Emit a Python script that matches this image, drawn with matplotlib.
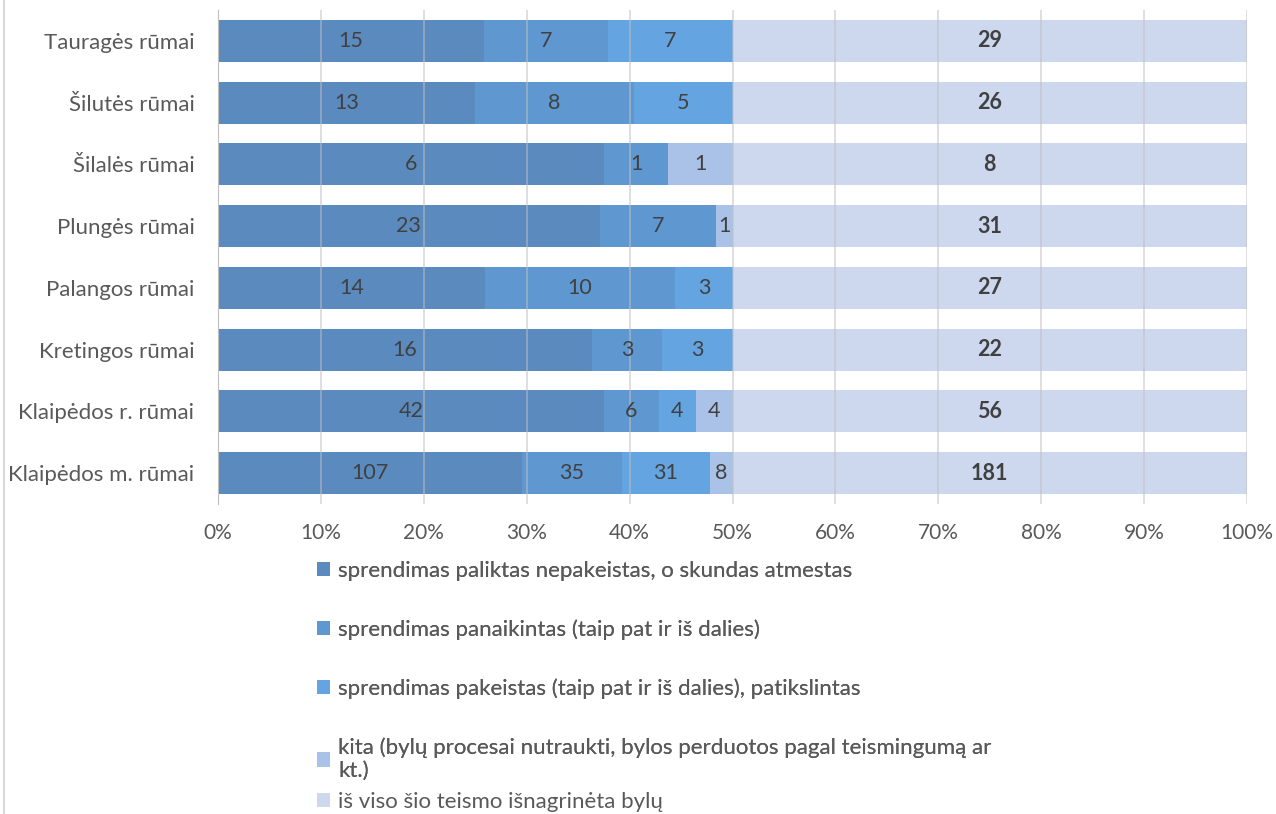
import matplotlib
matplotlib.use("Agg")
import matplotlib.pyplot as plt
import numpy as np

plt.rcParams['font.family'] = ['Lato', 'DejaVu Sans']

courts = ["Tauragės rūmai", "Šilutės rūmai", "Šilalės rūmai", "Plungės rūmai",
          "Palangos rūmai", "Kretingos rūmai", "Klaipėdos r. rūmai", "Klaipėdos m. rūmai"]
unchanged = [15, 13, 6, 23, 14, 16, 42, 107]
annulled = [7, 8, 1, 7, 10, 3, 6, 35]
changed = [7, 5, 0, 0, 3, 3, 4, 31]
other = [0, 0, 1, 1, 0, 0, 4, 8]
total = [29, 26, 8, 31, 27, 22, 56, 181]

series_names = [
    "sprendimas paliktas nepakeistas, o skundas atmestas",
    "sprendimas panaikintas (taip pat ir iš dalies)",
    "sprendimas pakeistas (taip pat ir iš dalies), patikslintas",
    "kita (bylų procesai nutraukti, bylos perduotos pagal teismingumą ar\nkt.)",
    "iš viso šio teismo išnagrinėta bylų",
]
colors = ["#5b8bbe", "#5f98d1", "#64a4e0", "#abc2e8", "#cdd8ef"]

series = [unchanged, annulled, changed, other, total]
data = np.array(series, dtype=float)
row_sum = data.sum(axis=0)
pct = data / row_sum * 100

fig = plt.figure(figsize=(12.76, 8.14), dpi=100)
ax = fig.add_axes([218 / 1276, 1 - 504 / 814, (1247 - 218) / 1276, 494 / 814])

y = np.arange(len(courts))
left = np.zeros(len(courts))
handles = []
for i, (vals, p) in enumerate(zip(series, pct)):
    h = ax.barh(y, p, left=left, height=0.68, color=colors[i], zorder=2,
                label=series_names[i])
    handles.append(h)
    for j, v in enumerate(vals):
        if v == 0:
            continue
        ax.text(left[j] + p[j] / 2, y[j], str(v), ha="center", va="center",
                fontsize=15.5, color="#404040",
                fontweight="bold" if i == 4 else "normal", zorder=4)
    left += p

ax.set_xlim(0, 100)
ax.set_ylim(len(courts) - 0.5, -0.5)
ax.set_yticks(y)
ax.set_yticklabels(courts, fontsize=16, color="#595959")
ax.set_xticks(np.arange(0, 101, 10))
ax.set_xticklabels([f"{t}%" for t in range(0, 101, 10)], fontsize=15, color="#595959")
ax.tick_params(axis="y", length=0, pad=17)
ax.tick_params(axis="x", length=0, pad=14)
for t in ax.get_xticks():
    ax.axvline(t, color="#bfbfbf", lw=1.3, zorder=3, alpha=0.55)
for s in ["top", "right", "bottom"]:
    ax.spines[s].set_visible(False)
ax.spines["left"].set_color("#bfbfbf")

# legend: the last entry sits closer, as in the original (cut) chart legend
leg_kw = dict(frameon=False, fontsize=16, labelcolor="#595959",
              handlelength=0.6, handleheight=0.6, handletextpad=0.35, borderaxespad=0)
leg1 = fig.legend(handles=handles[:4], loc="upper left",
                  bbox_to_anchor=(308 / 1276, 1 - 552 / 814), labelspacing=1.73, **leg_kw)
fig.legend(handles=handles[4:], loc="center left",
           bbox_to_anchor=(308 / 1276, 1 - 802 / 814), **leg_kw)
fig.add_artist(leg1)

fig.add_artist(plt.Line2D([4 / 1276, 4 / 1276], [0, 1], color="#d9d9d9", lw=1.5))

fig.savefig("out.png", dpi=100)
